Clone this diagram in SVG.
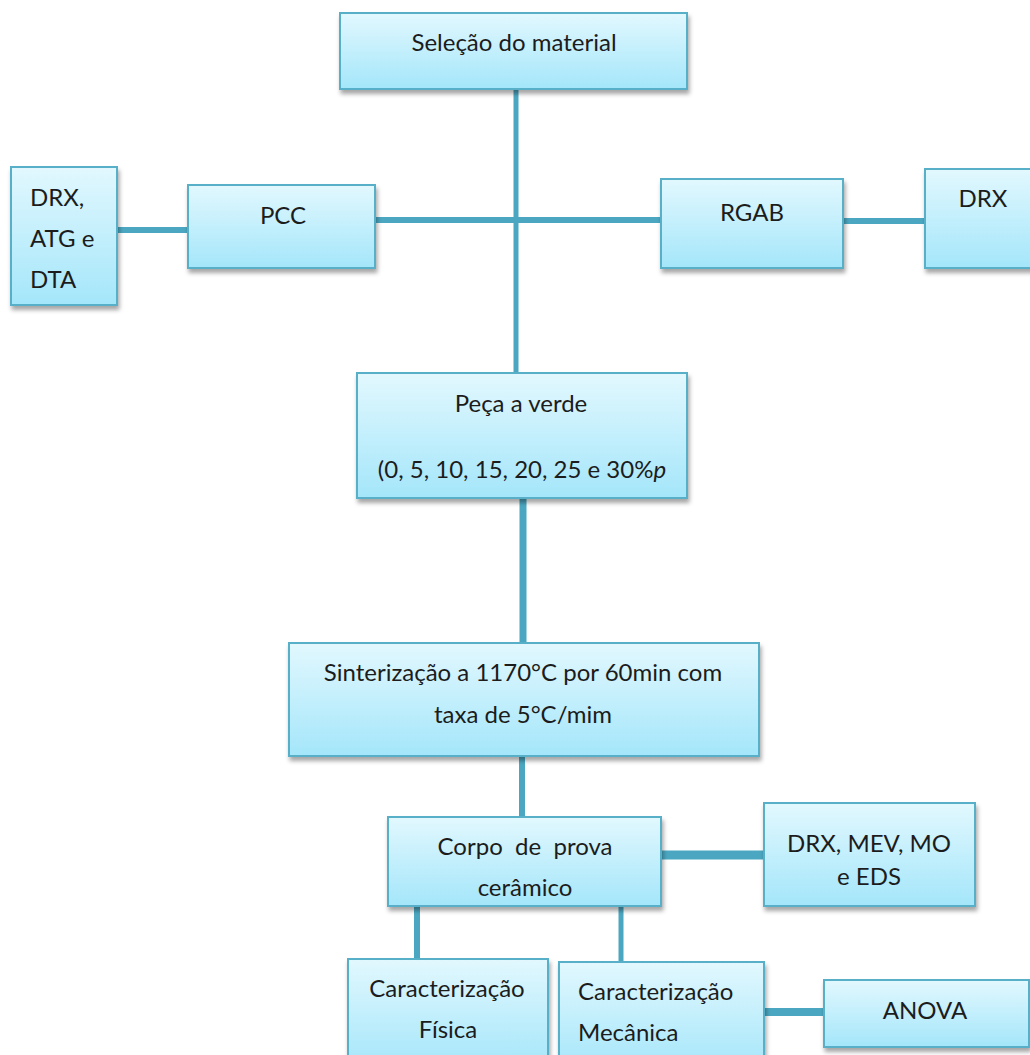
<svg xmlns="http://www.w3.org/2000/svg" width="1030" height="1055" viewBox="0 0 1030 1055">
  <defs>
    <linearGradient id="boxGrad" x1="0" y1="0" x2="0" y2="1">
      <stop offset="0" stop-color="#e2f8fe"/>
      <stop offset="1" stop-color="#a4e6fa"/>
    </linearGradient>
    <filter id="shadow" x="-10%" y="-10%" width="125%" height="135%">
      <feDropShadow dx="1.5" dy="4" stdDeviation="2.2" flood-color="#000" flood-opacity="0.35"/>
    </filter>
    <style>
      .box { fill: url(#boxGrad); stroke: #58b0c8; stroke-width: 2; filter: url(#shadow); }
      .conn { stroke: #4ba7c1; fill: none; stroke-linecap: butt; }
      text { font-family: Lato, "Open Sans", "Liberation Sans", sans-serif; font-size: 24px; fill: #1c1c1c; }
      .c { text-anchor: middle; }
    </style>
  </defs>
  <rect width="1030" height="1055" fill="#ffffff"/>

  <g id="connectors">
    <line class="conn" x1="516" y1="89" x2="516" y2="373" stroke-width="5"/>
    <line class="conn" x1="375" y1="220" x2="661" y2="220" stroke-width="6"/>
    <line class="conn" x1="117" y1="230" x2="188" y2="230" stroke-width="6"/>
    <line class="conn" x1="843" y1="221" x2="925" y2="221" stroke-width="6"/>
    <line class="conn" x1="523" y1="498" x2="523" y2="643" stroke-width="7"/>
    <line class="conn" x1="522" y1="756" x2="522" y2="817" stroke-width="6"/>
    <line class="conn" x1="661" y1="855" x2="764" y2="855" stroke-width="9"/>
    <line class="conn" x1="417" y1="906" x2="417" y2="959" stroke-width="6"/>
    <line class="conn" x1="621" y1="906" x2="621" y2="962" stroke-width="5"/>
    <line class="conn" x1="757" y1="1012" x2="824" y2="1012" stroke-width="8"/>
  </g>

  <g id="selecao">
    <rect class="box" x="340" y="13" width="347" height="76"/>
    <text class="c" x="514" y="51">Seleção do material</text>
  </g>

  <g id="drx-atg-dta">
    <rect class="box" x="11" y="167" width="106" height="138"/>
    <text x="30" y="206">DRX,</text>
    <text x="30" y="247">ATG e</text>
    <text x="30" y="288">DTA</text>
  </g>

  <g id="pcc">
    <rect class="box" x="188" y="185" width="187" height="83"/>
    <text class="c" x="283" y="224">PCC</text>
  </g>

  <g id="rgab">
    <rect class="box" x="661" y="179" width="182" height="89"/>
    <text class="c" x="752" y="221">RGAB</text>
  </g>

  <g id="drx-right">
    <rect class="box" x="925" y="169" width="120" height="99"/>
    <text class="c" x="983" y="207">DRX</text>
  </g>

  <g id="peca">
    <rect class="box" x="357" y="373" width="330" height="125"/>
    <text class="c" x="521" y="412">Peça a verde</text>
    <text class="c" x="522" y="478">(0, 5, 10, 15, 20, 25 e 30%<tspan font-style="italic">p</tspan></text>
  </g>

  <g id="sinterizacao">
    <rect class="box" x="289" y="643" width="470" height="113"/>
    <text class="c" x="523" y="681">Sinterização a 1170°C por 60min com</text>
    <text class="c" x="523" y="723">taxa de 5°C/mim</text>
  </g>

  <g id="corpo">
    <rect class="box" x="388" y="817" width="273" height="89"/>
    <text class="c" x="525" y="855" xml:space="preserve">Corpo  de  prova</text>
    <text class="c" x="525" y="896">cerâmico</text>
  </g>

  <g id="drx-mev">
    <rect class="box" x="764" y="803" width="211" height="103"/>
    <text class="c" x="869" y="852">DRX, MEV, MO</text>
    <text class="c" x="869" y="885">e EDS</text>
  </g>

  <g id="fisica">
    <rect class="box" x="348" y="959" width="200" height="110"/>
    <text class="c" x="447" y="997">Caracterização</text>
    <text class="c" x="448" y="1038">Física</text>
  </g>

  <g id="mecanica">
    <rect class="box" x="559" y="962" width="205" height="110"/>
    <text x="578" y="1000">Caracterização</text>
    <text x="578" y="1041">Mecânica</text>
  </g>

  <g id="anova">
    <rect class="box" x="824" y="980" width="205" height="67"/>
    <text class="c" x="925" y="1019">ANOVA</text>
  </g>
</svg>
